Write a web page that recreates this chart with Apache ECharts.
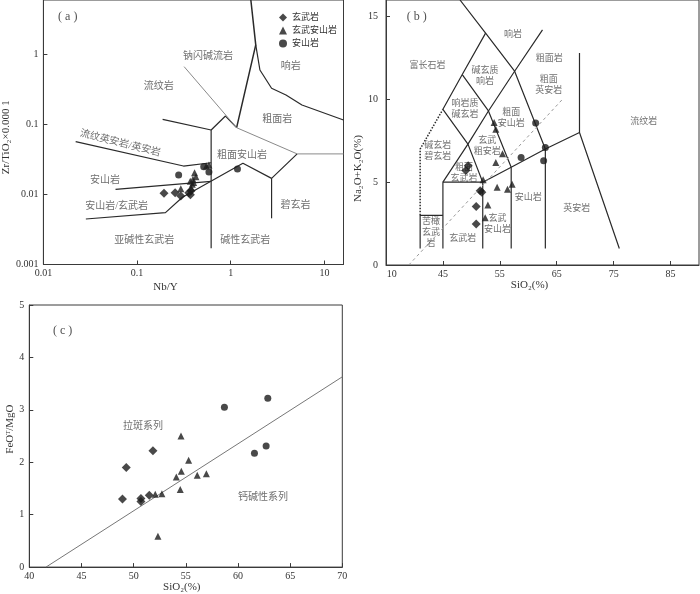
<!DOCTYPE html>
<html><head><meta charset="utf-8">
<script src="https://cdn.jsdelivr.net/npm/echarts@6/dist/echarts.min.js"></script>
<style>html,body{margin:0;padding:0;background:#fff}#c{width:700px;height:594px}</style>
</head><body><div id="c"></div>
<script>
// ---------- names ----------
const seriesNames = ['玄武岩', '玄武安山岩', '安山岩'];

// ---------- panel (a): Nb/Y vs Zr/TiO2 ----------
const aTicks = [0.01, 0.1, 1, 10];
const aTickLabels = ['0.01', '0.1', '1', '10'];
const aYTicks = [0.001, 0.01, 0.1, 1];
const aYTickLabels = ['0.001', '0.01', '0.1', '1'];
const aBasalt = [[0.194,0.0104],[0.255,0.0106],[0.293,0.0095],[0.357,0.0106],[0.377,0.0113],[0.371,0.0099]];
const aBasAndesite = [[0.411,0.0205],[0.425,0.0179],[0.402,0.0148],[0.389,0.0140],[0.293,0.0121],[0.585,0.0264],[0.55,0.0255],[0.378,0.0124],[0.37,0.0155],[0.395,0.0165]];
const aAndesite = [[0.278,0.019],[0.515,0.0249],[0.585,0.021],[1.18,0.0231]];
const aLineRhyoliteBase = [[0.1875,0.1186],[0.618,0.0834]];
const aLineVertical = [[0.618,0.0834],[0.618,0.0017]];
const aLineTrachyTop = [[0.618,0.0834],[0.879,0.132],[1.156,0.09]];
const aLineComendite = [[0.318,0.67],[1.156,0.09],[5.12,0.038],[16,0.038]];
const aLinePhonolite = [[1.156,0.09],[1.85,1.37],[1.64,6]];
const aLineTrachyte = [[1.85,1.37],[2.05,0.60],[2.73,0.329],[3.89,0.264],[5.76,0.19],[16,0.116]];
const aLineRhyodacite = [[0.0221,0.0568],[0.313,0.0255],[0.618,0.0284]];
const aLineAndesite = [[0.0589,0.01186],[0.618,0.01535]];
const aLineAlkali = [[0.0284,0.00447],[0.201,0.0055],[0.305,0.00912],[1.35,0.0279],[2.73,0.017],[5.12,0.038]];
const aLineBasanite = [[2.73,0.017],[2.73,0.00457]];
const aTag = [[0.0182,3.44,'( a )']];
const aLabels = [
  [0.571,0.95,'钠闪碱流岩',0],
  [4.37,0.67,'响岩',0],
  [0.170,0.355,'流纹岩',0],
  [3.13,0.1186,'粗面岩',0],
  [0.0662,0.0538,'流纹英安岩/英安岩',-14],
  [1.32,0.0367,'粗面安山岩',0],
  [0.0455,0.0161,'安山岩',0],
  [0.0604,0.00685,'安山岩/玄武岩',0],
  [4.92,0.00708,'碧玄岩',0],
  [0.119,0.00219,'亚碱性玄武岩',0],
  [1.43,0.00219,'碱性玄武岩',0]
];

// ---------- panel (b): TAS ----------
const bXTicks = [36, 45, 55, 65, 75, 85];
const bXTickLabels = ['10', '45', '55', '65', '75', '85'];
const bYTicks = [0, 5, 10, 15];
const bBasalt = [[49.44,6.0],[49.03,5.7],[51.84,4.39],[51.55,4.49],[50.85,3.53],[50.85,2.48]];
const bBasAndesite = [[54.0,8.6],[54.3,8.2],[55.47,6.71],[54.3,6.19],[52.07,5.14],[54.53,4.7],[56.35,4.58],[57.16,4.88],[52.9,3.63],[52.43,2.86]];
const bAndesite = [[61.3,8.57],[63.0,7.09],[58.74,6.49],[62.7,6.29]];
const bPicro = [[41,1],[41,3],[45,3]];
const bBasaltBox = [[45,1],[45,5],[52,5],[52,1]];
const bSubalkTop = [[52,5],[57,5.9],[63,7],[69,8]];
const bBA = [[57,1],[57,5.9]];
const bAnd = [[63,1],[63,7]];
const bDacite = [[69,12.8],[69,8],[76,1]];
const bTrachyBase = [[45,5],[49.4,7.3],[53,9.3],[57.6,11.7],[62.5,14.2]];
const bTephrite = [[45,9.4],[49.4,7.3],[52,5]];
const bPhonotephrite = [[45,9.4],[48.4,11.5],[52.5,14]];
const bPhonolite = [[48,16],[52.5,14],[57.6,11.7],[63,7]];
const bTephriphonolite = [[48.4,11.5],[53,9.3],[57,5.9]];
const bFoidite = [[41,3],[41,7],[45,9.4]];
const bIrvine = [[39,0],[66,10]];
const bTag = [[40.4,15.0,'( b )']];
const bLabels = [
  [57.3,13.9,'响岩'],
  [42.3,12.05,'富长石岩'],
  [63.7,12.44,'粗面岩'],
  [52.4,11.43,'碱玄质\n响岩'],
  [63.6,10.86,'粗面\n英安岩'],
  [48.9,9.43,'响岩质\n碱玄岩'],
  [57.0,8.85,'粗面\n安山岩'],
  [80.3,8.66,'流纹岩'],
  [52.8,7.19,'玄武\n粗安岩'],
  [44.1,6.87,'碱玄岩\n碧玄岩'],
  [48.7,5.56,'粗面\n玄武岩'],
  [60.0,4.09,'安山岩'],
  [68.5,3.43,'英安岩'],
  [42.9,1.95,'苦橄\n玄武\n岩'],
  [48.5,1.61,'玄武岩'],
  [54.6,2.44,'玄武\n安山岩']
];

// ---------- panel (c): SiO2 vs FeOT/MgO ----------
const cBasalt = [[48.93,1.30],[49.29,1.90],[50.7,1.31],[50.7,1.25],[51.5,1.37],[51.85,2.22]];
const cBasAndesite = [[54.54,2.50],[55.27,2.04],[54.57,1.83],[54.09,1.72],[56.1,1.75],[56.97,1.78],[54.47,1.48],[52.71,1.40],[52.07,1.39],[52.33,0.59]];
const cAndesite = [[58.7,3.05],[62.86,3.22],[62.7,2.31],[61.58,2.17]];
const cLine = [[41.6,0],[70,3.63]];
const cTag = [[43.2,4.51,'( c )']];
const cLabels = [
  [50.9,2.69,'拉斑系列'],
  [62.4,1.33,'钙碱性系列']
];

// ---------- styles ----------
const FONT = "'Liberation Serif','DejaVu Serif','Noto Sans CJK SC',serif";
const AX = '#3a3a3a';
const TXT = '#333';
const LBL = '#4a4a4a';

function lookup(vals, labels) {
  return function (v) {
    for (let i = 0; i < vals.length; i++) {
      if (Math.abs(v - vals[i]) <= Math.abs(vals[i]) * 1e-6 + 1e-9) return labels[i];
    }
    return '';
  };
}
function axisBase(extra) {
  return Object.assign({
    axisLine: {show: true, lineStyle: {color: AX, width: 1}},
    axisTick: {show: true, inside: true, length: 4, lineStyle: {color: AX}},
    splitLine: {show: false},
    nameLocation: 'middle',
    nameTextStyle: {fontFamily: FONT, fontSize: 11, color: TXT}
  }, extra);
}
function lbl(extra) {
  return Object.assign({fontFamily: FONT, fontSize: 10, color: TXT}, extra);
}

const symbols = ['diamond', 'triangle', 'circle'];
const sizes = [9, 7, 7];
const pointSets = [[aBasalt, aBasAndesite, aAndesite], [bBasalt, bBasAndesite, bAndesite], [cBasalt, cBasAndesite, cAndesite]];

const series = [];
function addLine(idx, pts, color, width, type) {
  series.push({type: 'line', xAxisIndex: idx, yAxisIndex: idx, data: pts, symbol: 'none', showSymbol: false,
    silent: true, animation: false, z: 2, lineStyle: {color: color, width: width, type: type || 'solid'}});
}
function addLabels(idx, items, fontSize, lineHeight, color) {
  series.push({type: 'scatter', xAxisIndex: idx, yAxisIndex: idx, symbolSize: 1, silent: true, animation: false, z: 4,
    itemStyle: {color: 'rgba(0,0,0,0)'},
    data: items.map(it => ({name: it[2], value: [it[0], it[1]], label: {rotate: it[3] || 0}})),
    label: {show: true, position: 'inside', formatter: '{b}', fontFamily: FONT, fontSize: fontSize,
      lineHeight: lineHeight, color: color || LBL, align: 'center', verticalAlign: 'middle'}});
}

// (a) boundaries
const BLK = '#2a2a2a', GRY = '#8a8a8a';
[aLineRhyoliteBase, aLineVertical, aLineTrachyTop, aLineTrachyte, aLineRhyodacite, aLineAndesite, aLineAlkali, aLineBasanite]
  .forEach(p => addLine(0, p, BLK, 1.2));
addLine(0, aLinePhonolite, BLK, 1.5);
addLine(0, aLineComendite, GRY, 1);
addLabels(0, aLabels, 10, 12);
addLabels(0, aTag, 12, 14, '#222');

// (b) boundaries
[bPicro, bBasaltBox, bSubalkTop, bBA, bAnd, bDacite, bTrachyBase, bTephrite, bPhonotephrite, bPhonolite, bTephriphonolite]
  .forEach(p => addLine(1, p, BLK, 1.2));
addLine(1, bFoidite, BLK, 1.5, 'dotted');
addLine(1, bIrvine, '#999', 1, [3, 3]);
addLabels(1, bLabels, 9, 11);
addLabels(1, bTag, 12, 14, '#222');

// (c)
addLine(2, cLine, '#777', 1);
addLabels(2, cLabels, 10, 12);
addLabels(2, cTag, 12, 14, '#222');

// data points
for (let g = 0; g < 3; g++) {
  for (let s = 0; s < 3; s++) {
    series.push({type: 'scatter', name: seriesNames[s], xAxisIndex: g, yAxisIndex: g, data: pointSets[g][s],
      symbol: symbols[s], symbolSize: sizes[s], itemStyle: {color: '#1c1c1c'}, z: 6, animation: false});
  }
}

const option = {
  backgroundColor: '#fff',
  animation: false,
  legend: {data: seriesNames, orient: 'vertical', left: 274, top: 8, itemWidth: 8, itemHeight: 8, itemGap: 4,
    textStyle: {fontFamily: FONT, fontSize: 9, color: TXT}, selectedMode: false},
  grid: [
    {left: 29.5, top: -1, width: 314, height: 265.5, show: true, borderColor: AX, borderWidth: 1},
    {left: 386, top: -1, width: 313, height: 266, show: true, borderColor: AX, borderWidth: 1},
    {left: 29.3, top: 305, width: 313, height: 264, show: true, borderColor: AX, borderWidth: 1}
  ],
  xAxis: [
    axisBase({type: 'log', logBase: 10, gridIndex: 0, min: 0.01, max: 16,
      axisTick: {show: true, inside: true, length: 4, lineStyle: {color: AX}, customValues: aTicks},
      axisLabel: lbl({customValues: aTicks, formatter: lookup(aTicks, aTickLabels), margin: 4}),
      name: 'Nb/Y', nameGap: 17, nameTextStyle: {fontFamily: FONT, fontSize: 11, color: TXT, padding: [0, 56, 0, 0]}}),
    axisBase({type: 'value', gridIndex: 1, min: 35, max: 90,
      axisTick: {show: true, inside: true, length: 4, lineStyle: {color: AX}, customValues: [45, 55, 65, 75, 85]},
      axisLabel: lbl({customValues: bXTicks, formatter: lookup(bXTicks, bXTickLabels), margin: 4}),
      name: 'SiO₂(%)', nameGap: 14, nameTextStyle: {fontFamily: FONT, fontSize: 11, color: TXT, padding: [0, 26, 0, 0]}}),
    axisBase({type: 'value', gridIndex: 2, min: 40, max: 70, interval: 5,
      axisLabel: lbl({margin: 4}),
      name: 'SiO₂(%)', nameGap: 10, nameTextStyle: {fontFamily: FONT, fontSize: 11, color: TXT, padding: [0, 8, 0, 0]}})
  ],
  yAxis: [
    axisBase({type: 'log', logBase: 10, gridIndex: 0, min: 0.001, max: 6,
      axisTick: {show: true, inside: true, length: 4, lineStyle: {color: AX}, customValues: aYTicks},
      axisLabel: lbl({customValues: aYTicks, formatter: lookup(aYTicks, aYTickLabels), margin: 5}),
      name: 'Zr/TiO₂×0.000 1', nameGap: 14, nameRotate: 90,
      nameTextStyle: {fontFamily: FONT, fontSize: 11, color: TXT, padding: [0, 10, 0, 0]}}),
    axisBase({type: 'value', gridIndex: 1, min: 0, max: 16,
      axisTick: {show: true, inside: true, length: 4, lineStyle: {color: AX}, customValues: bYTicks},
      axisLabel: lbl({customValues: bYTicks, margin: 8}),
      name: 'Na₂O+K₂O(%)', nameGap: 16, nameRotate: 90,
      nameTextStyle: {fontFamily: FONT, fontSize: 11, color: TXT, padding: [0, 72, 0, 0]}}),
    axisBase({type: 'value', gridIndex: 2, min: 0, max: 5, interval: 1,
      axisLabel: lbl({margin: 5}),
      name: 'FeOᵀ/MgO', nameGap: 14, nameRotate: 90,
      nameTextStyle: {fontFamily: FONT, fontSize: 11, color: TXT, padding: [0, 0, 0, 14]}})
  ],
  series: series
};

const chart = echarts.init(document.getElementById('c'), null, {renderer: 'canvas'});
chart.setOption(option);
</script>
</body></html>
